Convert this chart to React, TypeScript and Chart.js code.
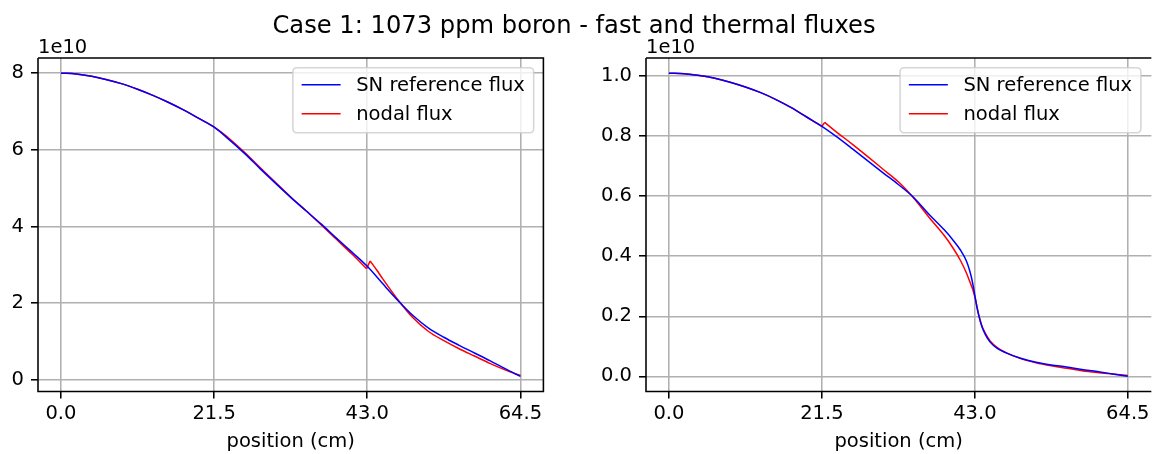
import React, { useEffect, useRef } from 'react';
import { Chart, registerables } from 'chart.js';

Chart.register(...registerables);

const FONT_FAMILY = '"DejaVu Sans", sans-serif';
const FS = 19.5;

const TITLE = 'Case 1: 1073 ppm boron - fast and thermal fluxes';
const X_LABEL = 'position (cm)';
const SERIES_LABELS = ['SN reference flux', 'nodal flux'];
const OFFSET_TEXT = '1e10';

const X_TICKS = [0, 21.5, 43, 64.5];
const FAST_Y_TICKS = [0, 2, 4, 6, 8];
const THERMAL_Y_TICKS = [0, 0.2, 0.4, 0.6, 0.8, 1.0];

// Fast flux (units of 1e10)
const FAST_SN_X = [0, 2.15, 4.3, 6.45, 8.6, 10.75, 12.9, 15.05, 17.2, 19.35, 21.5, 23.65, 25.8, 27.95, 30.1, 32.25, 34.4, 36.55, 38.7, 40.85, 43, 45.15, 47.3, 49.45, 51.6, 53.75, 55.9, 58.05, 60.2, 62.35, 64.5];
const FAST_SN = [8.0, 7.98, 7.92, 7.83, 7.72, 7.58, 7.42, 7.24, 7.04, 6.82, 6.59, 6.26, 5.9, 5.51, 5.13, 4.76, 4.41, 4.06, 3.69, 3.33, 2.96, 2.51, 2.07, 1.67, 1.35, 1.11, 0.9, 0.7, 0.5, 0.29, 0.09];
const FAST_NODAL_X = [0, 2.15, 4.3, 6.45, 8.6, 10.75, 12.9, 15.05, 17.2, 19.35, 21.5, 23.65, 25.8, 27.95, 30.1, 32.25, 34.4, 36.55, 38.7, 40.85, 42.9, 43.4, 44.3, 45.15, 47.3, 49.45, 51.6, 53.75, 55.9, 58.05, 60.2, 62.35, 64.5];
const FAST_NODAL = [8.0, 7.98, 7.92, 7.83, 7.72, 7.58, 7.42, 7.24, 7.04, 6.82, 6.6, 6.29, 5.93, 5.54, 5.15, 4.77, 4.41, 4.04, 3.66, 3.28, 2.9, 3.1, 2.87, 2.64, 2.09, 1.61, 1.26, 1.02, 0.81, 0.62, 0.43, 0.26, 0.11];
// index ranges [first, last] of each node of the nodal solution
const FAST_NODES = [[0, 10], [10, 20], [21, 32]];

// Thermal flux (units of 1e10)
const THERMAL_SN_X = [0, 2.15, 4.3, 6.45, 8.6, 10.75, 12.9, 15.05, 17.2, 19.35, 21.5, 23.65, 25.8, 27.95, 30.1, 32.25, 34.4, 36.55, 38.7, 40.0, 41.0, 41.8, 42.3, 42.7, 43.0, 43.3, 43.6, 44.0, 44.5, 45.15, 46.2, 47.3, 49.45, 51.6, 53.75, 55.9, 58.05, 60.2, 62.35, 64.5];
const THERMAL_SN = [1.01, 1.008, 1.002, 0.993, 0.98, 0.964, 0.945, 0.922, 0.895, 0.864, 0.833, 0.797, 0.758, 0.718, 0.678, 0.639, 0.596, 0.54, 0.488, 0.452, 0.42, 0.385, 0.35, 0.31, 0.27, 0.23, 0.198, 0.165, 0.138, 0.114, 0.092, 0.079, 0.06, 0.047, 0.038, 0.031, 0.023, 0.016, 0.008, 0.0];
const THERMAL_NODAL_X = [0, 2.15, 4.3, 6.45, 8.6, 10.75, 12.9, 15.05, 17.2, 19.35, 21.5, 21.9, 23.65, 25.8, 27.95, 30.1, 32.25, 34.4, 36.55, 38.7, 40.0, 41.0, 41.8, 42.3, 42.7, 43.0, 43.3, 43.6, 44.0, 44.5, 45.15, 46.2, 47.3, 49.45, 51.6, 53.75, 55.9, 58.05, 60.2, 62.35, 64.5];
const THERMAL_NODAL = [1.01, 1.008, 1.002, 0.993, 0.98, 0.964, 0.945, 0.922, 0.895, 0.864, 0.833, 0.846, 0.812, 0.773, 0.732, 0.69, 0.648, 0.594, 0.53, 0.469, 0.425, 0.385, 0.345, 0.315, 0.29, 0.265, 0.232, 0.2, 0.168, 0.142, 0.118, 0.095, 0.08, 0.059, 0.045, 0.035, 0.027, 0.019, 0.013, 0.008, 0.003];
const THERMAL_NODES = [[0, 10], [11, 25], [25, 40]];

const SN_COLOR = '#0000ff';
const NODAL_COLOR = '#ff0000';
const LINE_W = 1.5;

type Panel = {
  canvasLeft: number;
  canvasWidth: number;
  yAxisWidth: number;
  padRight: number;
  xMax: number;
  yTicks: number[];
  yFmt: (v: number) => string;
  snX: number[];
  sn: number[];
  nodalX: number[];
  nodal: number[];
  nodes: number[][];
  rightSpine: boolean;
};

const H = 454;
const AREA_TOP = 58;
const X_AXIS_H = 62.5;

function pairs(xs: number[], ys: number[]) {
  return xs.map((x, i) => ({ x, y: ys[i] }));
}

function yRange(a: number[], b: number[]) {
  const all = a.concat(b);
  const lo = Math.min(...all);
  const hi = Math.max(...all);
  const m = (hi - lo) * 0.05;
  return [lo - m, hi + m];
}

const PANELS: Panel[] = [
  {
    canvasLeft: 0,
    canvasWidth: 590,
    yAxisWidth: 38,
    padRight: 46.6,
    xMax: 67.725,
    yTicks: FAST_Y_TICKS,
    yFmt: (v) => String(Math.round(v)),
    snX: FAST_SN_X,
    sn: FAST_SN,
    nodalX: FAST_NODAL_X,
    nodal: FAST_NODAL,
    nodes: FAST_NODES,
    rightSpine: true,
  },
  {
    canvasLeft: 590,
    canvasWidth: 563,
    yAxisWidth: 56,
    padRight: 0,
    xMax: 67.81,
    yTicks: THERMAL_Y_TICKS,
    yFmt: (v) => v.toFixed(1),
    snX: THERMAL_SN_X,
    sn: THERMAL_SN,
    nodalX: THERMAL_NODAL_X,
    nodal: THERMAL_NODAL,
    nodes: THERMAL_NODES,
    rightSpine: false,
  },
];

function lineDs(label: string, data: { x: number; y: number }[], color: string, smooth: boolean) {
  return {
    label,
    data,
    borderColor: color,
    backgroundColor: color,
    borderWidth: LINE_W,
    pointRadius: 0,
    fill: false,
    ...(smooth ? { cubicInterpolationMode: 'monotone' } : { tension: 0 }),
  };
}

function nodalDatasets(p: Panel) {
  const pts = pairs(p.nodalX, p.nodal);
  const out: any[] = [];
  p.nodes.forEach(([a, b], k) => {
    out.push(lineDs(SERIES_LABELS[1], pts.slice(a, b + 1), NODAL_COLOR, true));
    const next = p.nodes[k + 1];
    if (next && next[0] !== b) {
      out.push(lineDs(SERIES_LABELS[1], [pts[b], pts[next[0]]], NODAL_COLOR, false));
    }
  });
  return out;
}

function PanelChart({ p }: { p: Panel }) {
  const ref = useRef<HTMLCanvasElement | null>(null);
  useEffect(() => {
    const canvas = ref.current;
    if (!canvas) return;
    const [yMin, yMax] = yRange(p.sn, p.nodal);
    const font = { family: FONT_FAMILY, size: FS, lineHeight: 1.2 };
    const decor = {
      id: 'decor',
      afterDraw(chart: any) {
        const ctx = chart.ctx as CanvasRenderingContext2D;
        const a = chart.chartArea;
        ctx.save();
        // spines
        ctx.strokeStyle = '#000';
        ctx.lineWidth = 1.56;
        ctx.beginPath();
        ctx.moveTo(a.left, a.top);
        ctx.lineTo(a.left, a.bottom);
        ctx.lineTo(a.right, a.bottom);
        if (p.rightSpine) ctx.lineTo(a.right, a.top);
        else ctx.moveTo(a.right, a.top);
        ctx.lineTo(a.left, a.top);
        ctx.stroke();
        // offset text
        ctx.fillStyle = '#000';
        ctx.font = `${FS}px ${FONT_FAMILY}`;
        ctx.textAlign = 'left';
        ctx.textBaseline = 'alphabetic';
        ctx.fillText(OFFSET_TEXT, a.left, 52.5);
        // legend
        const tw = Math.max(...SERIES_LABELS.map((l) => ctx.measureText(l).width));
        const W = 0.45 * FS + 2 * FS + 0.8 * FS + tw + 0.45 * FS;
        const LH = 65;
        const rightEdge = p.rightSpine ? a.right : a.right - 0.7;
        const x0 = rightEdge - 0.5 * FS - W;
        const y0 = a.top + 0.5 * FS;
        const r = 0.2 * FS;
        ctx.beginPath();
        ctx.moveTo(x0 + r, y0);
        ctx.lineTo(x0 + W - r, y0);
        ctx.arcTo(x0 + W, y0, x0 + W, y0 + r, r);
        ctx.lineTo(x0 + W, y0 + LH - r);
        ctx.arcTo(x0 + W, y0 + LH, x0 + W - r, y0 + LH, r);
        ctx.lineTo(x0 + r, y0 + LH);
        ctx.arcTo(x0, y0 + LH, x0, y0 + LH - r, r);
        ctx.lineTo(x0, y0 + r);
        ctx.arcTo(x0, y0, x0 + r, y0, r);
        ctx.closePath();
        ctx.fillStyle = 'rgba(255,255,255,0.8)';
        ctx.fill();
        ctx.strokeStyle = 'rgba(204,204,204,0.8)';
        ctx.lineWidth = 1.56;
        ctx.stroke();
        const colors = [SN_COLOR, NODAL_COLOR];
        const rows = [y0 + 17, y0 + 46];
        SERIES_LABELS.forEach((label, i) => {
          ctx.strokeStyle = colors[i];
          ctx.lineWidth = LINE_W;
          ctx.beginPath();
          ctx.moveTo(x0 + 0.45 * FS, rows[i]);
          ctx.lineTo(x0 + 2.45 * FS, rows[i]);
          ctx.stroke();
          ctx.fillStyle = '#000';
          ctx.textBaseline = 'middle';
          ctx.fillText(label, x0 + 3.25 * FS, rows[i] + 1);
        });
        ctx.restore();
      },
    };
    const chart = new Chart(canvas, {
      type: 'line',
      data: {
        datasets: [
          lineDs(SERIES_LABELS[0], pairs(p.snX, p.sn), SN_COLOR, true),
          ...nodalDatasets(p),
        ] as any,
      },
      options: {
        animation: false,
        responsive: false,
        maintainAspectRatio: false,
        events: [],
        layout: {
          autoPadding: false,
          padding: { top: AREA_TOP, left: 0, right: p.padRight, bottom: 0 },
        },
        plugins: {
          legend: { display: false },
          tooltip: { enabled: false },
          title: { display: false },
        },
        scales: {
          x: {
            type: 'linear',
            min: -3.225,
            max: p.xMax,
            afterBuildTicks: (s: any) => {
              s.ticks = X_TICKS.map((v) => ({ value: v }));
            },
            afterFit: (s: any) => {
              s.height = X_AXIS_H;
            },
            ticks: {
              autoSkip: false,
              maxRotation: 0,
              padding: 3.5,
              color: '#000',
              font,
              callback: (v: any) => Number(v).toFixed(1),
            },
            grid: {
              color: '#b0b0b0',
              lineWidth: 1.56,
              tickColor: '#000',
              tickWidth: 1.56,
              tickLength: 7,
            },
            border: { display: false },
            title: {
              display: true,
              text: X_LABEL,
              color: '#000',
              font,
              padding: { top: 0, bottom: 0.5 },
            },
          },
          y: {
            type: 'linear',
            min: yMin,
            max: yMax,
            afterBuildTicks: (s: any) => {
              s.ticks = p.yTicks.map((v) => ({ value: v }));
            },
            afterFit: (s: any) => {
              s.width = p.yAxisWidth;
            },
            ticks: {
              autoSkip: false,
              padding: 7,
              color: '#000',
              font,
              callback: (v: any) => p.yFmt(Number(v)),
            },
            grid: {
              color: '#b0b0b0',
              lineWidth: 1.56,
              tickColor: '#000',
              tickWidth: 1.56,
              tickLength: 7,
            },
            border: { display: false },
          },
        },
      } as any,
      plugins: [decor],
    });
    return () => chart.destroy();
  }, [p]);
  return (
    <canvas
      ref={ref}
      width={p.canvasWidth}
      height={H}
      style={{ position: 'absolute', left: p.canvasLeft, top: 0, width: p.canvasWidth, height: H }}
    />
  );
}

export default function App() {
  return (
    <div
      style={{
        position: 'fixed',
        left: 0,
        top: 0,
        width: 1153,
        height: H,
        background: '#fff',
        overflow: 'hidden',
      }}
    >
      {PANELS.map((p, i) => (
        <PanelChart key={i} p={p} />
      ))}
      <div
        style={{
          position: 'absolute',
          left: 0,
          width: 1148,
          top: 13,
          textAlign: 'center',
          fontFamily: FONT_FAMILY,
          fontSize: 24.2,
          lineHeight: '24px',
          color: '#000',
          whiteSpace: 'nowrap',
        }}
      >
        {TITLE}
      </div>
    </div>
  );
}
